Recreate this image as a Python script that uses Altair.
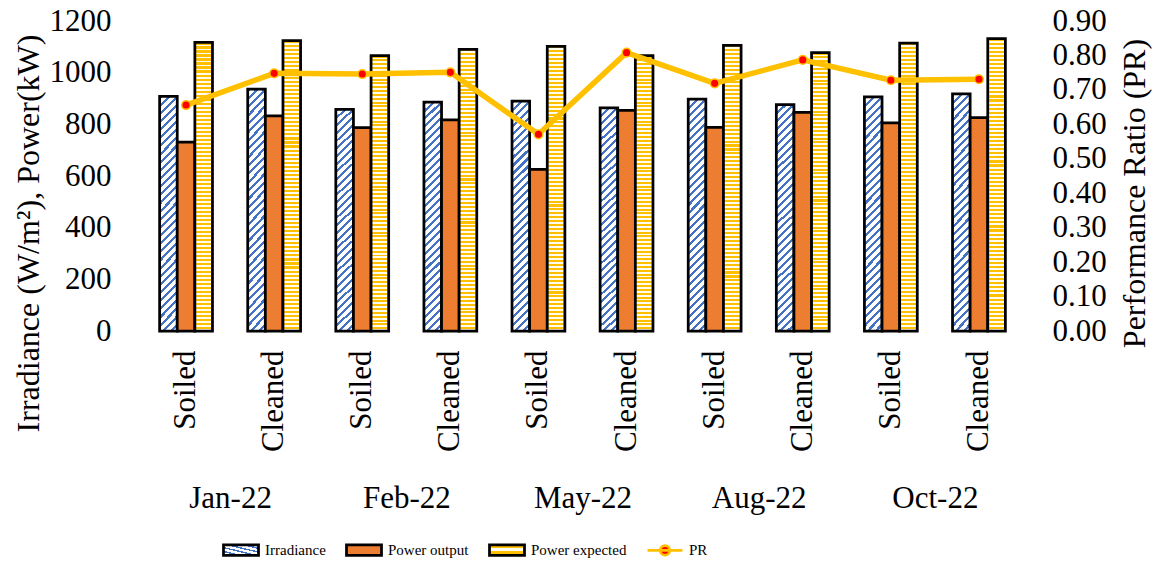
import altair as alt
import pandas as pd

# ---- data -------------------------------------------------------------
months = ["Jan-22", "Feb-22", "May-22", "Aug-22", "Oct-22"]
conditions = ["Soiled", "Cleaned"]

irradiance = [908, 936, 858, 886, 890, 864, 898, 876, 906, 918]       # W/m2
power_output = [731, 833, 787, 817, 626, 854, 788, 846, 806, 826]     # kW
power_expected = [1117, 1124, 1066, 1090, 1102, 1066, 1106, 1078, 1114, 1132]  # kW
performance_ratio = [0.656, 0.748, 0.746, 0.751, 0.571, 0.808, 0.719, 0.787, 0.728, 0.731]

series = ["Irradiance", "Power output", "Power expected", "PR"]
bar_series = series[:3]

keys = [f"{m} {c}" for m in months for c in conditions]

bar_rows = []
for name, vals in zip(bar_series, [irradiance, power_output, power_expected]):
    for k, v in zip(keys, vals):
        bar_rows.append({"key": k, "series": name, "value": v})
bars_df = pd.DataFrame(bar_rows)
pr_df = pd.DataFrame({"key": keys, "series": "PR", "pr": performance_ratio})
month_df = pd.DataFrame({"month": months})

# ---- hatch fills as hard-stop linear gradients --------------------------
BLUE, ORANGE, YELLOW, RED = "#4472C4", "#ED7D31", "#FFC000", "#FF0000"


def stripe_expr(color, gap_color, periods, frac, x2, y2):
    stops = []
    for i in range(periods):
        a = round(i / periods, 5)
        b = round((i + frac) / periods, 5)
        c = round((i + 1) / periods, 5)
        stops += [(a, color), (b, color), (b, gap_color), (c, gap_color)]
    s = ",".join(f"{{offset:{o},color:'{col}'}}" for o, col in stops)
    return {"expr": f"{{gradient:'linear',x1:0,y1:0,x2:{x2},y2:{y2},stops:[{s}]}}"}


# diagonal "/" hatch: gradient vector proportional to (w, h) of a bar
bw, bh = 17.6, 230.0
lam = (bw + bh) / (bw * bw + bh * bh)
diag = stripe_expr(BLUE, "#FFFFFF", 31, 0.38, round(lam * bw, 4), round(lam * bh, 4))
horiz = stripe_expr(YELLOW, "#FFFBEF", 72, 0.52, 0, 1)

RECT = "M-1,-0.3H1V0.3H-1Z"
LINE_DOT = "M-1,0H1M0.27,0A0.27,0.27 0 1,1 -0.27,0A0.27,0.27 0 1,1 0.27,0Z"

color_scale = alt.Scale(domain=series, range=[diag, ORANGE, horiz, RED])
stroke_scale = alt.Scale(domain=series, range=["#000000", "#000000", "#000000", YELLOW])
shape_scale = alt.Scale(domain=series, range=[RECT, RECT, RECT, LINE_DOT])

x_scale = alt.Scale(domain=keys, paddingInner=0, paddingOuter=0)
left_scale = alt.Scale(domain=[0, 1200], nice=False)
right_scale = alt.Scale(domain=[0, 0.9], nice=False)

FONT = "Liberation Serif"

bars = alt.Chart(bars_df).mark_bar(strokeWidth=2.75, opacity=1).encode(
    x=alt.X("key:N", sort=keys, scale=x_scale,
            axis=alt.Axis(orient="bottom", title=None, labelAngle=-90,
                          labelExpr="split(datum.value, ' ')[1]",
                          labelFontSize=31, labelPadding=19, labelOverlap=False)),
    xOffset=alt.XOffset("series:N", sort=bar_series,
                        scale=alt.Scale(domain=bar_series, paddingInner=0, paddingOuter=1)),
    y=alt.Y("value:Q", scale=left_scale,
            axis=alt.Axis(orient="left", values=[0, 200, 400, 600, 800, 1000, 1200],
                          format="d", title="Irradiance (W/m²), Power(kW)", labelFontSize=31,
                          labelPadding=31, titleFontSize=32, titleAngle=270,
                          titleBaseline="middle", titleX=-114, titleY=212)),
    color=alt.Color("series:N", scale=color_scale, title=None),
    stroke=alt.Stroke("series:N", scale=stroke_scale, title=None),
)

pr_line = alt.Chart(pr_df).mark_line(color=YELLOW, strokeWidth=5.5).encode(
    x=alt.X("key:N", sort=keys, scale=x_scale, axis=None),
    y=alt.Y("pr:Q", scale=right_scale,
            axis=alt.Axis(orient="right", values=[i / 10 for i in range(10)], format=".2f",
                          title="Performance Ratio (PR)", labelFontSize=31, labelPadding=29,
                          titleFontSize=32, titleAngle=270, titleBaseline="middle",
                          titleX=111, titleY=172)),
)

pr_points = alt.Chart(pr_df).mark_point(
    filled=True, size=75, fill=RED, stroke=YELLOW, strokeWidth=1.5, opacity=1
).encode(
    x=alt.X("key:N", sort=keys, scale=x_scale, axis=None),
    y=alt.Y("pr:Q", scale=right_scale, axis=None),
)

# carries the per-entry legend symbols; draws nothing itself
legend_keys = alt.Chart(pr_df).mark_point(filled=True, opacity=1).encode(
    color=alt.Color("series:N", scale=color_scale, title=None),
    stroke=alt.Stroke("series:N", scale=stroke_scale, title=None),
    shape=alt.Shape("series:N", scale=shape_scale, title=None),
).transform_filter("false")

month_axis = alt.Chart(month_df).mark_point(opacity=0).encode(
    x=alt.X("month:N", sort=months,
            scale=alt.Scale(domain=months, paddingInner=0, paddingOuter=0),
            axis=alt.Axis(orient="bottom", title=None, labelAngle=0, offset=150,
                          labelPadding=2, labelFontSize=31)),
)

chart = alt.layer(bars, pr_line, pr_points, legend_keys, month_axis).resolve_scale(
    x="independent", y="independent"
).properties(
    width=881, height=310,
    autosize=alt.AutoSizeParams(type="none"),
    padding={"left": 142, "top": 21, "right": 132, "bottom": 231},
).configure_view(stroke=None).configure_axis(
    grid=False, domain=False, ticks=False,
    labelFont=FONT, titleFont=FONT, labelColor="#000000", titleColor="#000000",
    titleFontWeight="normal",
).configure_legend(
    orient="none", legendX=80, legendY=510, direction="horizontal", columns=4,
    labelFont=FONT, labelFontSize=15, labelColor="#000000", labelOffset=5,
    symbolSize=1225, symbolStrokeWidth=2.75, columnPadding=15, padding=0,
    title=None,
)

chart.save("out.html", embed_options={"renderer": "svg", "actions": False})
